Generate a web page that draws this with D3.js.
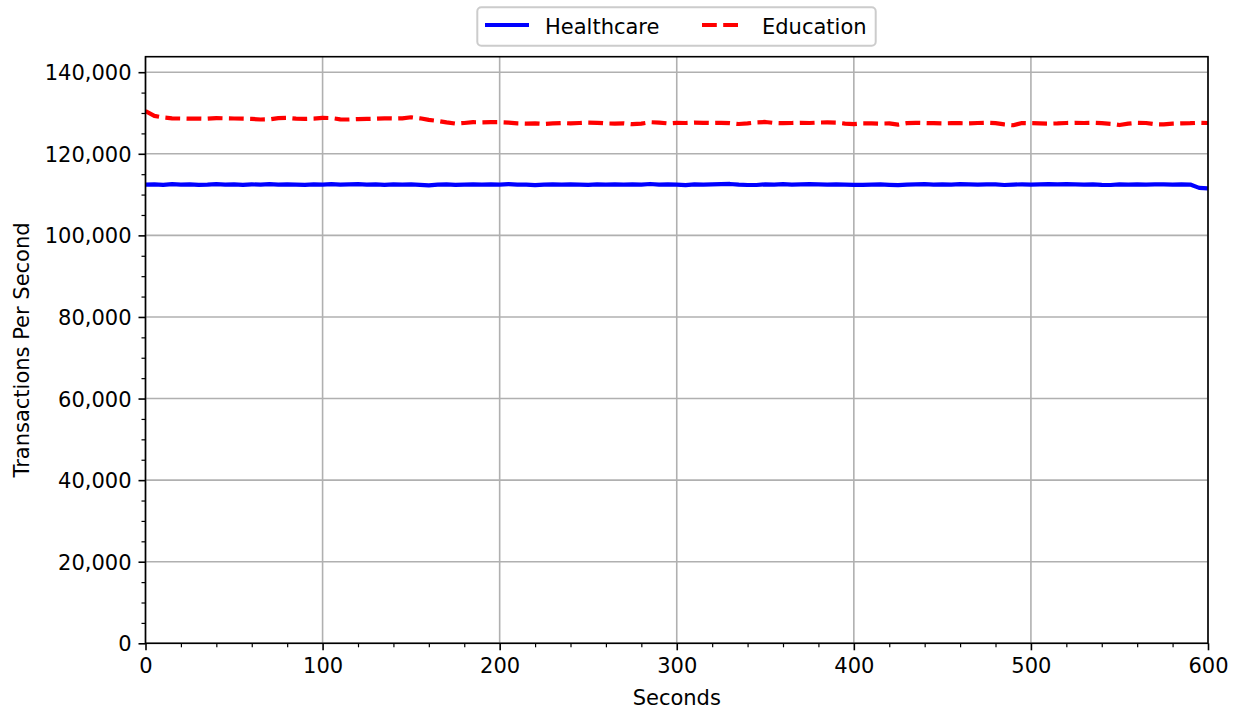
<!DOCTYPE html>
<html>
<head>
<meta charset="utf-8">
<script src="https://cdn.jsdelivr.net/npm/d3@7"></script>
<style>
  html, body { margin: 0; padding: 0; background: #ffffff; }
  svg { display: block; font-family: "DejaVu Sans", sans-serif; }
</style>
</head>
<body>
<svg id="chart" width="1238" height="710"></svg>
<script>
// Sample times (seconds), one reading every 5 s
const seconds = d3.range(0, 601, 5);

// Throughput readings, transactions per second
const healthcare = [
  112450, 112500, 112400, 112550, 112450, 112500, 112400, 112450, 112550, 112450,
  112500, 112400, 112500, 112450, 112550, 112450, 112500, 112450, 112400, 112500,
  112450, 112550, 112450, 112500, 112550, 112450, 112500, 112400, 112500, 112450,
  112500, 112400, 112250, 112450, 112500, 112400, 112450, 112500, 112450, 112500,
  112450, 112550, 112450, 112450, 112300, 112450, 112500, 112450, 112500, 112450,
  112400, 112500, 112450, 112500, 112450, 112500, 112450, 112600, 112450, 112500,
  112450, 112300, 112500, 112450, 112500, 112550, 112600, 112450, 112350, 112350,
  112500, 112450, 112550, 112450, 112500, 112550, 112500, 112450, 112500, 112450,
  112400, 112400, 112450, 112500, 112400, 112300, 112450, 112500, 112550, 112450,
  112500, 112450, 112550, 112500, 112450, 112500, 112500, 112350, 112450, 112500,
  112450, 112500, 112550, 112500, 112550, 112500, 112450, 112500, 112400, 112350,
  112500, 112450, 112500, 112450, 112500, 112500, 112450, 112500, 112450, 111650,
  111500
];

const education = [
  130450, 129300, 128900, 128700, 128650, 128600, 128650, 128600, 128750, 128700,
  128650, 128600, 128550, 128400, 128450, 128750, 128800, 128600, 128550, 128600,
  128800, 128750, 128450, 128400, 128500, 128550, 128600, 128700, 128650, 128700,
  128950, 128700, 128300, 128050, 127700, 127400, 127550, 127750, 127700, 127750,
  127750, 127650, 127450, 127400, 127450, 127300, 127450, 127550, 127450, 127550,
  127650, 127600, 127450, 127400, 127450, 127250, 127400, 127750, 127650, 127450,
  127600, 127550, 127650, 127600, 127550, 127600, 127500, 127300, 127450, 127700,
  127800, 127550, 127500, 127550, 127600, 127550, 127650, 127700, 127650, 127400,
  127250, 127450, 127450, 127400, 127450, 127150, 127500, 127600, 127550, 127500,
  127450, 127500, 127500, 127450, 127550, 127600, 127500, 127200, 127000, 127550,
  127500, 127450, 127400, 127450, 127550, 127600, 127550, 127600, 127500, 127350,
  127050, 127400, 127600, 127550, 127250, 127200, 127400, 127450, 127500, 127600,
  127550
];

const seriesNames = ["Healthcare", "Education"];
const seriesColors = ["#0000ff", "#ff0000"];
const xTicks = [0, 100, 200, 300, 400, 500, 600];
const yTicks = [0, 20000, 40000, 60000, 80000, 100000, 120000, 140000];
const xMinorTicks = d3.range(0, 601, 20);
const yMinorTicks = d3.range(0, 143801, 5000);
const xLabel = "Seconds";
const yLabel = "Transactions Per Second";

const W = 1238, H = 710;
const FONT = "21px";
const margin = { top: 56.7, right: 30, bottom: 66.7, left: 145.5 };
const innerW = W - margin.left - margin.right;
const innerH = H - margin.top - margin.bottom;

const svg = d3.select("#chart");
const g = svg.append("g").attr("transform", `translate(${margin.left},${margin.top})`);

const x = d3.scaleLinear().domain([0, 600]).range([0, innerW]);
const y = d3.scaleLinear().domain([0, 143800]).range([innerH, 0]);

// Grid
const grid = g.append("g").attr("class", "grid");
grid.selectAll("line.gx").data(xTicks).join("line")
  .attr("x1", d => x(d)).attr("x2", d => x(d))
  .attr("y1", 0).attr("y2", innerH)
  .attr("stroke", "#b0b0b0").attr("stroke-width", 1.6);
grid.selectAll("line.gy").data(yTicks).join("line")
  .attr("class", "gy")
  .attr("x1", 0).attr("x2", innerW)
  .attr("y1", d => y(d)).attr("y2", d => y(d))
  .attr("stroke", "#b0b0b0").attr("stroke-width", 1.6);

// Clip for the data lines
svg.append("defs").append("clipPath").attr("id", "plotClip")
  .append("rect").attr("x", 0).attr("y", 0).attr("width", innerW).attr("height", innerH);

const line = d3.line().x((d, i) => x(seconds[i])).y(d => y(d));
const plot = g.append("g").attr("clip-path", "url(#plotClip)");

plot.append("path").datum(healthcare)
  .attr("d", line).attr("fill", "none")
  .attr("stroke", seriesColors[0]).attr("stroke-width", 4.2)
  .attr("stroke-linejoin", "round");

plot.append("path").datum(education)
  .attr("d", line).attr("fill", "none")
  .attr("stroke", seriesColors[1]).attr("stroke-width", 4.2)
  .attr("stroke-linejoin", "round")
  .attr("stroke-dasharray", "14.8,6.4");

// Axes
const fmt = d3.format(",");
const xAxis = g.append("g").attr("transform", `translate(0,${innerH})`)
  .call(d3.axisBottom(x).tickValues(xTicks).tickFormat(d3.format("d")).tickSize(7).tickPadding(7));
const xMinor = g.append("g").attr("transform", `translate(0,${innerH})`)
  .call(d3.axisBottom(x).tickValues(xMinorTicks.filter(d => !xTicks.includes(d))).tickFormat("").tickSize(4));
const yAxis = g.append("g")
  .call(d3.axisLeft(y).tickValues(yTicks).tickFormat(fmt).tickSize(7).tickPadding(7));
const yMinor = g.append("g")
  .call(d3.axisLeft(y).tickValues(yMinorTicks.filter(d => !yTicks.includes(d))).tickFormat("").tickSize(4));

[xAxis, xMinor, yAxis, yMinor].forEach(a => {
  a.select(".domain").remove();
  a.selectAll("text").attr("fill", "#000").style("font-size", FONT)
    .style("font-family", "'DejaVu Sans', sans-serif");
});
[xAxis, yAxis].forEach(a => a.selectAll(".tick line").attr("stroke", "#000").attr("stroke-width", 1.6));
[xMinor, yMinor].forEach(a => a.selectAll(".tick line").attr("stroke", "#000").attr("stroke-width", 1.2));
yAxis.selectAll("text").attr("dy", "0.36em");
xAxis.selectAll("text").attr("dy", "0.76em");

// Frame
g.append("rect").attr("x", 0).attr("y", 0).attr("width", innerW).attr("height", innerH)
  .attr("fill", "none").attr("stroke", "#000").attr("stroke-width", 1.6);

// Axis titles
svg.append("text")
  .attr("x", margin.left + innerW / 2).attr("y", 705)
  .attr("text-anchor", "middle").style("font-size", FONT).attr("fill", "#000")
  .text(xLabel);
svg.append("text")
  .attr("transform", `translate(28.5,${margin.top + innerH / 2}) rotate(-90)`)
  .attr("text-anchor", "middle").style("font-size", FONT).attr("fill", "#000")
  .text(yLabel);

// Legend
const legend = svg.append("g");
legend.append("rect")
  .attr("x", 477.3).attr("y", 7.3).attr("width", 398.4).attr("height", 38.4)
  .attr("rx", 4).attr("ry", 4)
  .attr("fill", "#ffffff").attr("fill-opacity", 0.8)
  .attr("stroke", "#cccccc").attr("stroke-width", 2);
const legendItems = [
  { name: seriesNames[0], color: seriesColors[0], dash: null, x0: 485, tx: 545 },
  { name: seriesNames[1], color: seriesColors[1], dash: "14.8,6.4", x0: 702, tx: 762 }
];
legendItems.forEach(it => {
  legend.append("line")
    .attr("x1", it.x0).attr("x2", it.x0 + (it.dash ? 40 : 44))
    .attr("y1", 25).attr("y2", 25)
    .attr("stroke", it.color).attr("stroke-width", 4.2)
    .attr("stroke-dasharray", it.dash);
  legend.append("text")
    .attr("x", it.tx).attr("y", 33.5)
    .style("font-size", FONT).attr("fill", "#000")
    .text(it.name);
});
</script>
</body>
</html>
